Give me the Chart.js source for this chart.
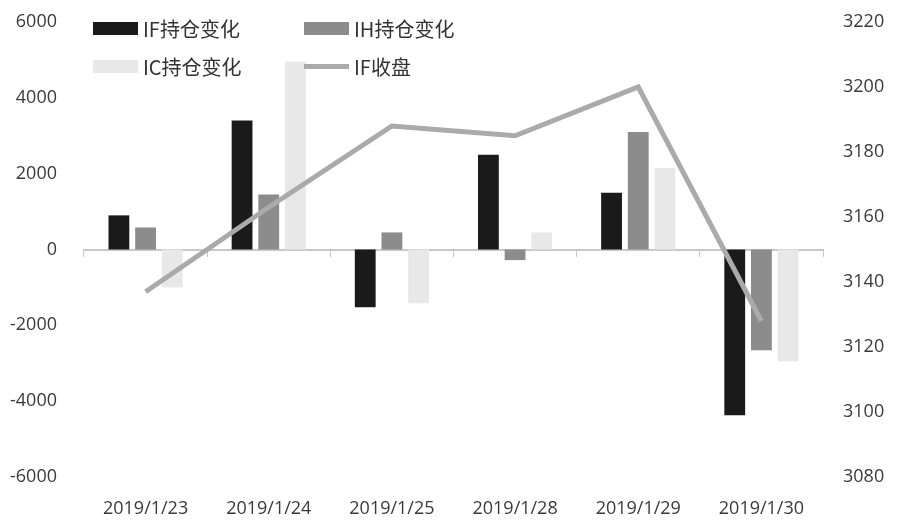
<!DOCTYPE html>
<html>
<head>
<meta charset="utf-8">
<script src="https://cdn.jsdelivr.net/npm/chart.js@4/dist/chart.umd.min.js"></script>
<style>
  body { margin: 0; background: #fff; }
  .wrap { position: relative; width: 900px; height: 528px; }
  .legend { position: absolute; left: 93px; top: 14px; display: grid;
    grid-template-columns: 211px 220px; row-gap: 10px;
    font-family: "Noto Sans CJK SC", sans-serif; font-size: 20px; color: #333; }
  .legend div { display: flex; align-items: center; height: 28px; white-space: nowrap; }
  .legend span.sw { display: inline-block; width: 45px; margin-right: 5px; }
</style>
</head>
<body>
<div class="wrap">
  <canvas id="c" width="900" height="528"></canvas>
  <div class="legend" id="legend"></div>
</div>
<script>
const dates = ["2019/1/23", "2019/1/24", "2019/1/25", "2019/1/28", "2019/1/29", "2019/1/30"];
const ifChange = [900, 3400, -1520, 2500, 1500, -4370];
const ihChange = [580, 1450, 450, -280, 3100, -2660];
const icChange = [-1000, 4950, -1420, 450, 2150, -2950];
const ifClose = [3137, 3163, 3188, 3185, 3200, 3128];
const leftTicks = [-6000, -4000, -2000, 0, 2000, 4000, 6000];
const rightTicks = [3080, 3100, 3120, 3140, 3160, 3180, 3200, 3220];

const tickFont = { family: "'Open Sans', sans-serif", size: 18 };
const tickColor = "#3a3a3a";

const chart = new Chart(document.getElementById("c"), {
  data: {
    labels: dates,
    datasets: [
      { type: "bar", label: "IF持仓变化", data: ifChange, backgroundColor: "#1a1a1a", yAxisID: "y", order: 1 },
      { type: "bar", label: "IH持仓变化", data: ihChange, backgroundColor: "#8c8c8c", yAxisID: "y", order: 1 },
      { type: "bar", label: "IC持仓变化", data: icChange, backgroundColor: "#e8e8e8", yAxisID: "y", order: 1 },
      { type: "line", label: "IF收盘", data: ifClose, borderColor: "#aaaaaa", borderWidth: 5,
        pointRadius: 0, tension: 0, yAxisID: "y1", order: 0 }
    ]
  },
  options: {
    responsive: false,
    animation: false,
    categoryPercentage: 0.65,
    barPercentage: 0.78,
    layout: { padding: { top: 22, left: 0, right: 0, bottom: 0 } },
    plugins: { legend: { display: false }, tooltip: { enabled: false } },
    scales: {
      x: {
        position: "bottom",
        grid: { display: false },
        border: { display: false },
        ticks: { font: tickFont, color: tickColor, padding: 13, maxRotation: 0 },
        afterFit: s => { s.height = 51; }
      },
      x2: {
        position: { y: 0 },
        labels: dates,
        offset: true,
        grid: { offset: true, drawOnChartArea: false, drawTicks: true, tickLength: 6, color: "#c8c8c8" },
        border: { display: true, color: "#c8c8c8", width: 2 },
        ticks: { display: false }
      },
      y: {
        position: "left",
        min: -6000, max: 6000,
        afterBuildTicks: s => { s.ticks = leftTicks.map(v => ({ value: v })); },
        grid: { display: false, drawTicks: true, tickLength: 23 },
        border: { display: false },
        ticks: { font: tickFont, color: tickColor, padding: 4, callback: v => String(v) },
        afterFit: s => { s.width = 84; }
      },
      y1: {
        position: "right",
        min: 3080, max: 3220,
        afterBuildTicks: s => { s.ticks = rightTicks.map(v => ({ value: v })); },
        grid: { display: false, drawTicks: true, tickLength: 16 },
        border: { display: false },
        ticks: { font: tickFont, color: tickColor, padding: 4, callback: v => String(v) },
        afterFit: s => { s.width = 77; }
      }
    }
  }
});

const legend = document.getElementById("legend");
const order = [0, 1, 2, 3];
order.forEach(i => {
  const ds = chart.data.datasets[i];
  const item = document.createElement("div");
  const sw = document.createElement("span");
  sw.className = "sw";
  if (ds.type === "line") {
    sw.style.height = "5px";
    sw.style.background = ds.borderColor;
  } else {
    sw.style.height = "13px";
    sw.style.background = ds.backgroundColor;
  }
  item.appendChild(sw);
  item.appendChild(document.createTextNode(ds.label));
  legend.appendChild(item);
});
</script>
</body>
</html>
